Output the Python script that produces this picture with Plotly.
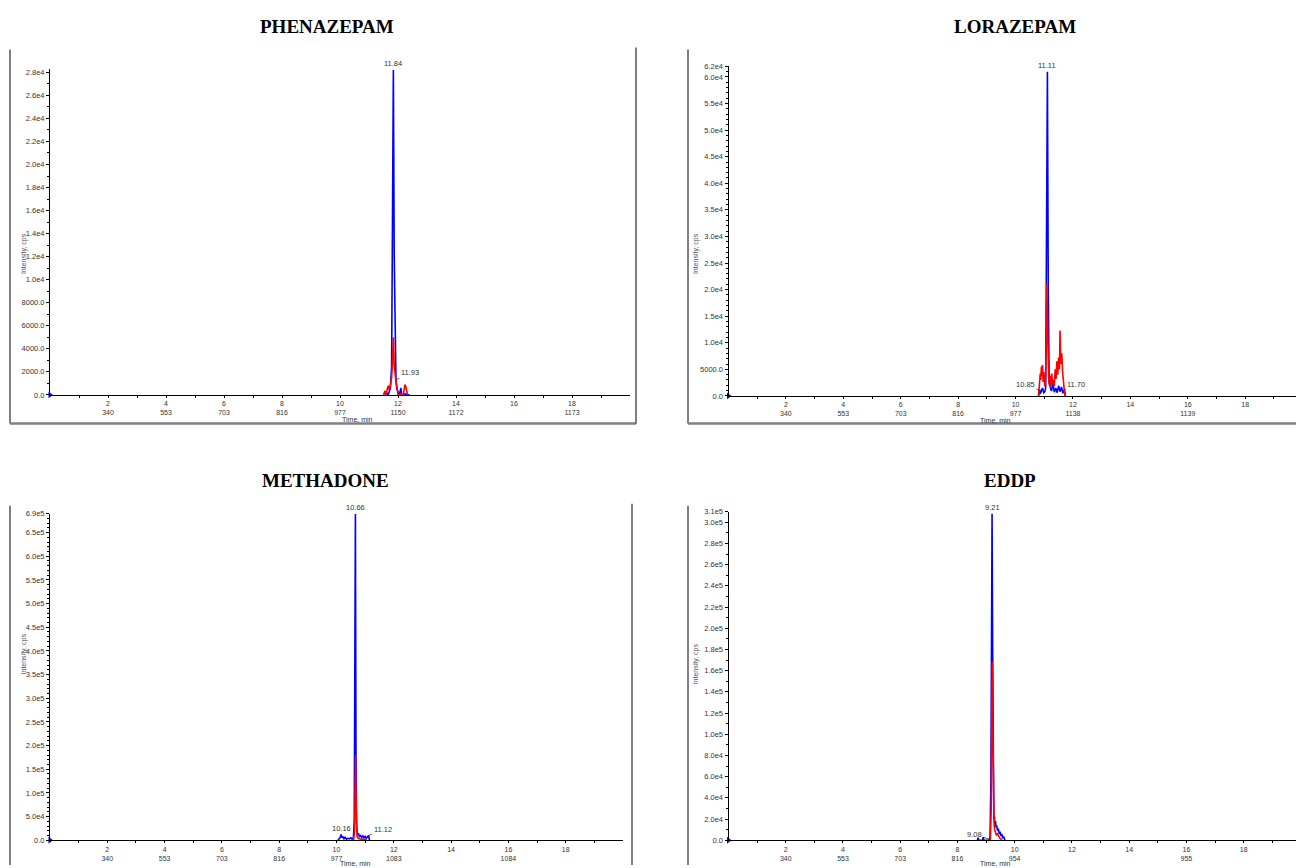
import plotly.graph_objects as go

W, H = 1296, 868

# ---------------- data ----------------
titles = ["PHENAZEPAM", "LORAZEPAM", "METHADONE", "EDDP"]

# PHENAZEPAM
phen_blue_t = [11.55, 11.62, 11.66, 11.70, 11.74, 11.78, 11.81, 11.84, 11.87, 11.90, 11.93, 11.96, 12.00, 12.05, 12.10, 12.13, 12.18, 12.25, 12.30, 12.40]
phen_blue_i = [0, 150, 0, 300, 600, 2500, 15000, 28200, 12000, 3000, 1300, 500, 200, 0, 600, 0, 0, 100, 0, 0]
phen_red_t = [11.50, 11.55, 11.58, 11.63, 11.66, 11.70, 11.74, 11.78, 11.81, 11.84, 11.87, 11.90, 11.93, 11.97, 12.00, 12.18, 12.21, 12.24, 12.27, 12.30, 12.33]
phen_red_i = [0, 350, 0, 500, 800, 400, 900, 1500, 3000, 5000, 2500, 1400, 1200, 600, 0, 0, 500, 900, 700, 400, 0]

# LORAZEPAM
lora_blue_t = [10.80, 10.84, 10.86, 10.90, 10.94, 10.98, 11.02, 11.05, 11.08, 11.11, 11.14, 11.17, 11.20, 11.25, 11.30, 11.35, 11.40, 11.45, 11.50, 11.55, 11.60, 11.65, 11.70, 11.74]
lora_blue_i = [0, 1200, 400, 900, 1500, 600, 800, 1500, 30000, 61000, 20000, 2500, 1800, 900, 2200, 700, 1500, 600, 1900, 800, 1700, 500, 1200, 0]
lora_red_t = [10.80, 10.83, 10.86, 10.88, 10.90, 10.92, 10.94, 10.96, 10.98, 11.00, 11.02, 11.04, 11.07, 11.09, 11.11, 11.13, 11.15, 11.18, 11.20, 11.23, 11.26, 11.29, 11.32, 11.35, 11.38, 11.41, 11.44, 11.47, 11.50, 11.53, 11.55, 11.58, 11.61, 11.64, 11.67, 11.70, 11.73]
lora_red_i = [0, 2500, 4200, 3000, 5500, 3800, 5800, 2600, 4500, 3200, 1800, 2500, 9000, 21000, 15000, 6000, 3500, 2000, 3800, 1500, 4200, 2200, 3000, 1800, 5000, 3200, 6500, 4000, 7200, 5000, 12300, 6000, 8000, 4500, 2000, 900, 0]

# METHADONE
meth_blue_t = [10.05, 10.10, 10.13, 10.16, 10.19, 10.22, 10.26, 10.30, 10.35, 10.40, 10.45, 10.50, 10.55, 10.59, 10.62, 10.64, 10.66, 10.68, 10.70, 10.73, 10.76, 10.80, 10.84, 10.88, 10.92, 10.96, 11.00, 11.04, 11.08, 11.12, 11.15]
meth_blue_i = [0, 3000, 6000, 12000, 5000, 8000, 3000, 6000, 2000, 4000, 3000, 5000, 2000, 6000, 40000, 370000, 690000, 190000, 30000, 12000, 15000, 8000, 10000, 6000, 9000, 5000, 8000, 4000, 7000, 10000, 0]
meth_red_t = [10.55, 10.60, 10.63, 10.65, 10.67, 10.69, 10.72, 10.76, 10.80, 10.85, 10.90, 10.95, 11.00, 11.05]
meth_red_i = [0, 1500, 20000, 120000, 180000, 60000, 8000, 4000, 3000, 2000, 2500, 1000, 1500, 0]

# EDDP
eddp_blue_t = [8.70, 8.72, 8.74, 8.88, 8.90, 8.92, 9.10, 9.14, 9.17, 9.19, 9.21, 9.23, 9.25, 9.27, 9.29, 9.31, 9.33, 9.35, 9.37, 9.40, 9.43, 9.46, 9.49, 9.52, 9.55, 9.58, 9.62, 9.66]
eddp_blue_i = [0, 2500, 0, 0, 3000, 0, 0, 3000, 60000, 250000, 308000, 180000, 26000, 20000, 23000, 15000, 18000, 12000, 14000, 9000, 11000, 6000, 8000, 4000, 6000, 2000, 3000, 0]
eddp_red_t = [9.15, 9.18, 9.20, 9.22, 9.24, 9.26, 9.28, 9.30, 9.33, 9.36, 9.40, 9.44, 9.48, 9.52, 9.56]
eddp_red_i = [0, 30000, 120000, 168000, 100000, 40000, 15000, 10000, 8000, 5000, 6000, 3000, 2000, 1000, 0]

# x tick labels (time over scan number)
x_tick_vals = [2, 4, 6, 8, 10, 12, 14, 16, 18]
x_minor_vals = [1, 3, 5, 7, 9, 11, 13, 15, 17, 19]
phen_x_text = ["2<br>340", "4<br>553", "6<br>703", "8<br>816", "10<br>977", "12<br>1150", "14<br>1172", "16", "18<br>1173"]
lora_x_text = ["2<br>340", "4<br>553", "6<br>703", "8<br>816", "10<br>977", "12<br>1138", "14", "16<br>1139", "18"]
meth_x_text = ["2<br>340", "4<br>553", "6<br>703", "8<br>816", "10<br>977", "12<br>1083", "14", "16<br>1084", "18"]
eddp_x_text = ["2<br>340", "4<br>553", "6<br>703", "8<br>816", "10<br>954", "12", "14", "16<br>955", "18"]

# y tick labels
phen_y_vals = [0, 2000, 4000, 6000, 8000, 10000, 12000, 14000, 16000, 18000, 20000, 22000, 24000, 26000, 28000]
phen_y_text = ["0.0", "2000.0", "4000.0", "6000.0", "8000.0", "1.0e4", "1.2e4", "1.4e4", "1.6e4", "1.8e4", "2.0e4", "2.2e4", "2.4e4", "2.6e4", "2.8e4"]
lora_y_vals = [0, 5000, 10000, 15000, 20000, 25000, 30000, 35000, 40000, 45000, 50000, 55000, 60000, 62000]
lora_y_text = ["0.0", "5000.0", "1.0e4", "1.5e4", "2.0e4", "2.5e4", "3.0e4", "3.5e4", "4.0e4", "4.5e4", "5.0e4", "5.5e4", "6.0e4", "6.2e4"]
meth_y_vals = [0, 50000, 100000, 150000, 200000, 250000, 300000, 350000, 400000, 450000, 500000, 550000, 600000, 650000, 690000]
meth_y_text = ["0.0", "5.0e4", "1.0e5", "1.5e5", "2.0e5", "2.5e5", "3.0e5", "3.5e5", "4.0e5", "4.5e5", "5.0e5", "5.5e5", "6.0e5", "6.5e5", "6.9e5"]
eddp_y_vals = [0, 20000, 40000, 60000, 80000, 100000, 120000, 140000, 160000, 180000, 200000, 220000, 240000, 260000, 280000, 300000, 310000]
eddp_y_text = ["0.0", "2.0e4", "4.0e4", "6.0e4", "8.0e4", "1.0e5", "1.2e5", "1.4e5", "1.6e5", "1.8e5", "2.0e5", "2.2e5", "2.4e5", "2.6e5", "2.8e5", "3.0e5", "3.1e5"]

# peak labels: (time, intensity, text, ax, ay) ; ax None -> label on top of the peak
phen_labels = [(11.84, 28200, "11.84", None, None), (11.93, 1300, "11.93", 14, -7)]
lora_labels = [(11.11, 61000, "11.11", None, None), (10.87, 1000, "10.85", -15, -6), (11.70, 1200, "11.70", 12, -5)]
meth_labels = [(10.66, 690000, "10.66", None, None), (10.16, 12000, "10.16", None, None), (11.12, 10000, "11.12", 14, -6)]
eddp_labels = [(9.21, 308000, "9.21", None, None), (9.10, 1000, "9.08", -14, -5)]

# ---------------- layout geometry (pixels) ----------------
panels = [
    dict(t=(phen_blue_t, phen_red_t), i=(phen_blue_i, phen_red_i), xt=phen_x_text, yv=phen_y_vals, yt=phen_y_text,
         ymax=28260, ydt=1000, x0=50, x1=630, xmax=20.0, yb=395, ytop=66, labels=phen_labels,
         title_xy=(327, 23), frame=dict(l=10, r=636, t=46, b=424), ytitle=(18, 230), xtitle=(340, 420)),
    dict(t=(lora_blue_t, lora_red_t), i=(lora_blue_i, lora_red_i), xt=lora_x_text, yv=lora_y_vals, yt=lora_y_text,
         ymax=62000, ydt=1000, x0=728.5, x1=1296, xmax=19.77, yb=396, ytop=63, labels=lora_labels,
         title_xy=(1015, 23), frame=dict(l=688, r=None, t=46, b=424), ytitle=(696, 230), xtitle=(1013, 421)),
    dict(t=(meth_blue_t, meth_red_t), i=(meth_blue_i, meth_red_i), xt=meth_x_text, yv=meth_y_vals, yt=meth_y_text,
         ymax=690000, ydt=10000, x0=50, x1=623, xmax=20.0, yb=845, ytop=515, labels=meth_labels,
         title_xy=(325, 481), frame=dict(l=10, r=632, t=507, b=None), ytitle=(18, 680), xtitle=(338, 869)),
    dict(t=(eddp_blue_t, eddp_red_t), i=(eddp_blue_i, eddp_red_i), xt=eddp_x_text, yv=eddp_y_vals, yt=eddp_y_text,
         ymax=310000, ydt=10000, x0=728.5, x1=1296, xmax=19.83, yb=845, ytop=513, labels=eddp_labels,
         title_xy=(1010, 481), frame=dict(l=688, r=None, t=507, b=None), ytitle=(696, 690), xtitle=(1013, 869)),
]


def px(x):
    return x / W


def py(y):
    return 1 - y / H


fig = go.Figure()
layout = dict(width=W, height=H, margin=dict(l=0, r=0, t=0, b=0),
              paper_bgcolor="white", plot_bgcolor="white", showlegend=False,
              font=dict(family="Liberation Sans, Arial", size=8, color="#333333"))
annotations = []
shapes = []

xtick_font = dict(family="Liberation Sans, Arial", size=7, color="#333333")
ytick_font = dict(family="Liberation Sans, Arial", size=7.5, color="#333333")
label_font = dict(family="Liberation Sans, Arial", size=7.5, color="#333333")

for k, p in enumerate(panels):
    n = "" if k == 0 else str(k + 1)
    xa, ya = "x" + n, "y" + n
    (bt, rt), (bi, ri) = p["t"], p["i"]
    fig.add_trace(go.Scatter(x=bt, y=bi, mode="lines", line=dict(color="#0000ff", width=1.6),
                             xaxis=xa, yaxis=ya, hoverinfo="skip"))
    fig.add_trace(go.Scatter(x=rt, y=ri, mode="lines", line=dict(color="#ff0000", width=1.6),
                             xaxis=xa, yaxis=ya, hoverinfo="skip"))
    fig.add_trace(go.Scatter(x=[0], y=[0], mode="markers", cliponaxis=False,
                             marker=dict(symbol="triangle-right", size=6, color="#0000ff"),
                             xaxis=xa, yaxis=ya, hoverinfo="skip"))

    layout["xaxis" + n] = dict(
        domain=[px(p["x0"]), px(p["x1"])], range=[0, p["xmax"]], anchor=ya,
        showgrid=False, zeroline=False, showline=True, linecolor="black", linewidth=1,
        tickmode="array", tickvals=x_tick_vals, ticktext=p["xt"], ticks="outside",
        ticklen=2, tickcolor="black", tickfont=xtick_font,
        minor=dict(tickmode="array", tickvals=x_minor_vals,
                   ticks="outside", ticklen=2, tickcolor="black"),
    )
    layout["yaxis" + n] = dict(
        domain=[py(p["yb"]), py(p["ytop"])], range=[0, p["ymax"]], anchor=xa,
        showgrid=False, zeroline=False, showline=True, linecolor="black", linewidth=1,
        tickmode="array", tickvals=p["yv"], ticktext=p["yt"], ticks="outside",
        ticklen=3, tickcolor="black", tickfont=ytick_font,
        minor=dict(dtick=p["ydt"], tick0=0, ticks="outside", ticklen=2, tickcolor="black"),
    )

    # title
    annotations.append(dict(x=px(p["title_xy"][0]), y=py(p["title_xy"][1]), xref="paper", yref="paper",
                            text="<b>%s</b>" % titles[k], showarrow=False, xanchor="center", yanchor="middle",
                            font=dict(family="Liberation Serif, Times New Roman", size=19, color="black")))
    # axis titles
    annotations.append(dict(x=px(p["ytitle"][0]), y=py(p["ytitle"][1]), xref="paper", yref="paper",
                            text="Intensity, cps", textangle=-90, showarrow=False,
                            font=dict(family="Liberation Sans, Arial", size=7, color="#555555")))
    annotations.append(dict(x=px(p["xtitle"][0]), y=py(p["xtitle"][1]), xref="paper", yref="paper",
                            text="Time, min", showarrow=False, yanchor="middle",
                            font=dict(family="Liberation Sans, Arial", size=7, color="#333333")))
    # peak labels
    for (t, v, txt, ax, ay) in p["labels"]:
        if ax is None:
            annotations.append(dict(x=t, y=v, xref=xa, yref=ya, text=txt, showarrow=False,
                                    yanchor="bottom", yshift=0, font=label_font))
        else:
            annotations.append(dict(x=t, y=v, xref=xa, yref=ya, text=txt, showarrow=True,
                                    arrowhead=0, arrowwidth=0.8, arrowcolor="#333333", ax=ax, ay=ay,
                                    font=label_font))

    # frame
    f = p["frame"]
    bottom = f["b"] if f["b"] is not None else H + 2
    shapes.append(dict(type="line", xref="paper", yref="paper", x0=px(f["l"]), x1=px(f["l"]),
                       y0=py(f["t"]), y1=py(bottom), line=dict(color="#808080", width=2)))
    if f["b"] is not None:
        right = f["r"] if f["r"] is not None else W + 2
        shapes.append(dict(type="line", xref="paper", yref="paper", x0=px(f["l"]), x1=px(right),
                           y0=py(bottom), y1=py(bottom), line=dict(color="#808080", width=2.5)))
    if f["r"] is not None:
        shapes.append(dict(type="line", xref="paper", yref="paper", x0=px(f["r"]), x1=px(f["r"]),
                           y0=py(f["t"] - 2), y1=py(bottom), line=dict(color="black", width=1)))

layout["annotations"] = annotations
layout["shapes"] = shapes
fig.update_layout(**layout)
fig.write_html("out.html", config={"displayModeBar": False},
               post_script="document.body.style.margin='0';document.body.style.overflow='hidden';")
